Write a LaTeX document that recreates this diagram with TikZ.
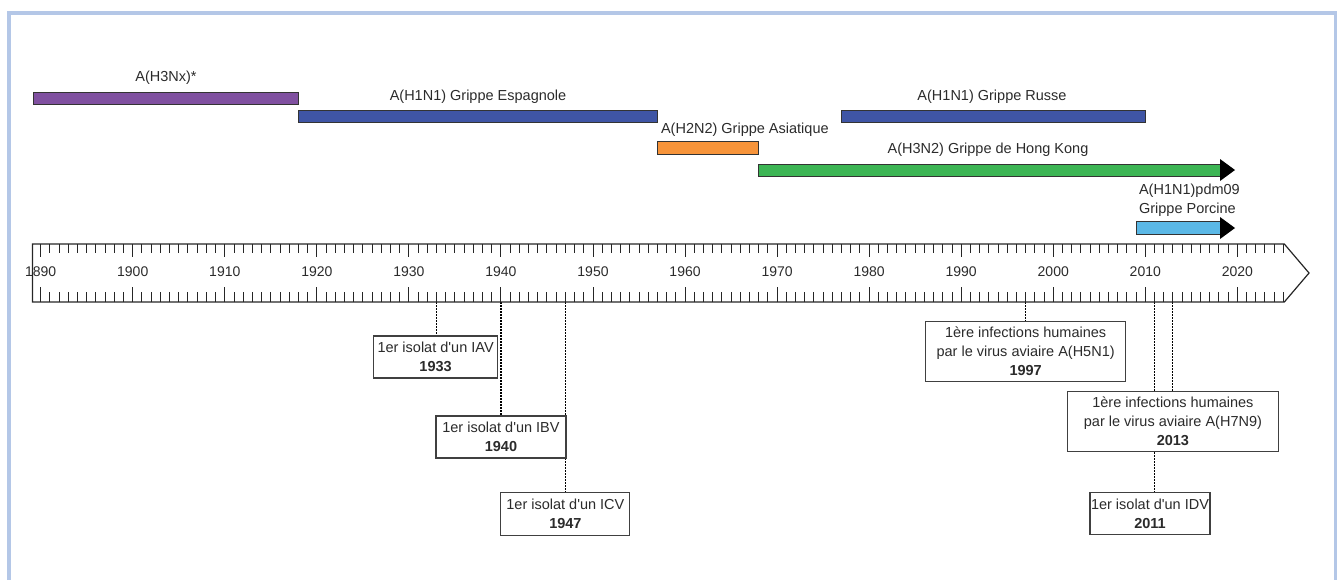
\documentclass[tikz,border=0pt]{standalone}
\usepackage{fontspec}
\setmainfont{Liberation Sans}[Ligatures=TeXOff]
\usetikzlibrary{positioning,backgrounds}

\definecolor{cadre}{HTML}{B4C7E7}
\definecolor{cHtroisNx}{HTML}{8050A0}
\definecolor{cHunNun}{HTML}{3F55A5}
\definecolor{cHdeuxNdeux}{HTML}{F7943A}
\definecolor{cHtroisNdeux}{HTML}{3CB554}
\definecolor{cPdm}{HTML}{5BB8E6}
\definecolor{texte}{HTML}{2B2B2B}

\begin{document}
\begin{tikzpicture}[x=1pt,y=-1pt,
  declare function={yr(\a)=40.7+9.205*(\a-1890);},
  barre/.style={draw=black!80,line width=1pt},
  etiq/.style={text=texte,font=\fontsize{14.5}{19}\selectfont},
  boite/.style={etiq,draw=black!75,line width=1.2pt,fill=white,align=center,inner sep=1pt},
  pointille/.style={line width=1.1pt,dash pattern=on 1.5pt off 1.5pt}]
\useasboundingbox (0,0) rectangle (1337,579);
% le cadre
\draw[cadre,line width=3.5pt] (9.2,600) -- (9.2,13.2) -- (1335.6,13.2) -- (1335.6,600);

% les sous-types
\draw[barre,fill=cHtroisNx] ({yr(1889.2)},92.3) rectangle ({yr(1918)},104.3);
\draw[barre,fill=cHunNun] ({yr(1918)},110) rectangle ({yr(1957)},122.3);
\draw[barre,fill=cHdeuxNdeux] ({yr(1957)},141.7) rectangle ({yr(1968)},154);
\draw[barre,fill=cHunNun] ({yr(1977)},110) rectangle ({yr(2010)},122.3);
\draw[barre,fill=cHtroisNdeux] ({yr(1968)},164) rectangle (1220,176);
\fill (1220,159) -- (1235,170) -- (1220,181) -- cycle;
\draw[barre,fill=cPdm] ({yr(2009)},221.7) rectangle (1220,234);
\fill (1220,217) -- (1235,228) -- (1220,239) -- cycle;

\node[etiq] (nHtroisNx) at (166,78) {A(H3Nx)*};
\node[etiq] (nEsp) at (478,97) {A(H1N1) Grippe Espagnole};
\node[etiq,anchor=west] (nAsi) at (657.5,129.5) {A(H2N2) Grippe Asiatique};
\node[etiq] (nRus) at (992,97) {A(H1N1) Grippe Russe};
\node[etiq] (nHK) at (988,150) {A(H3N2) Grippe de Hong Kong};
\node[etiq,anchor=west,align=left] (nPdm) at (1135.5,200) {A(H1N1)pdm09\\Grippe Porcine};

% la frise
\draw[line width=1.2pt,black!85] ({yr(1889.1)},244) -- ({yr(2025.1)},244)
  -- (1309,273) -- ({yr(2025.1)},302) -- ({yr(1889.1)},302) -- cycle;
\foreach \a in {1890,...,2025}{
  \draw[line width=1pt,black!85] ({yr(\a)},244) -- ++(0,9);
  \draw[line width=1pt,black!85] ({yr(\a)},302) -- ++(0,-10);
}
\foreach \a in {1890,1900,...,2020}{
  \draw[line width=1pt,black!85] ({yr(\a)},244) -- ++(0,13);
  \draw[line width=1pt,black!85] ({yr(\a)},302) -- ++(0,-15);
  \node[etiq,font=\fontsize{14}{17}\selectfont] (l\a) at ({yr(\a)},272) {\a};
}
\foreach \a in {1933,1940,1947,1997,2011,2013}
  \coordinate (t\a) at ({yr(\a)},302);

% les evenements
\node[boite,minimum width=124,minimum height=42] (b1933) at ({yr(1932.9)},357)
  {1er isolat d'un IAV\\\textbf{1933}};
\node[boite,minimum width=130,minimum height=42] (b1940) at ({yr(1940)},437)
  {1er isolat d'un IBV\\\textbf{1940}};
\node[boite,minimum width=129,minimum height=43] (b1947) at ({yr(1947)},513.6)
  {1er isolat d'un ICV\\\textbf{1947}};
\node[boite,minimum width=200,minimum height=60] (b1997) at ({yr(1997)},351.7)
  {1ère infections humaines\\par le virus aviaire A(H5N1)\\\textbf{1997}};
\node[boite,minimum width=211,minimum height=60] (b2013) at ({yr(2013)},421.7)
  {1ère infections humaines\\par le virus aviaire A(H7N9)\\\textbf{2013}};
\node[boite,minimum width=120,minimum height=42] (b2011) at (1150,513.8)
  {1er isolat d'un IDV\\\textbf{2011}};

\begin{scope}[on background layer]
\foreach \a in {1933,1940,1947,1997,2011,2013}
  \draw[pointille] (t\a) -- (t\a |- b\a.north);
\end{scope}
\end{tikzpicture}
\end{document}
